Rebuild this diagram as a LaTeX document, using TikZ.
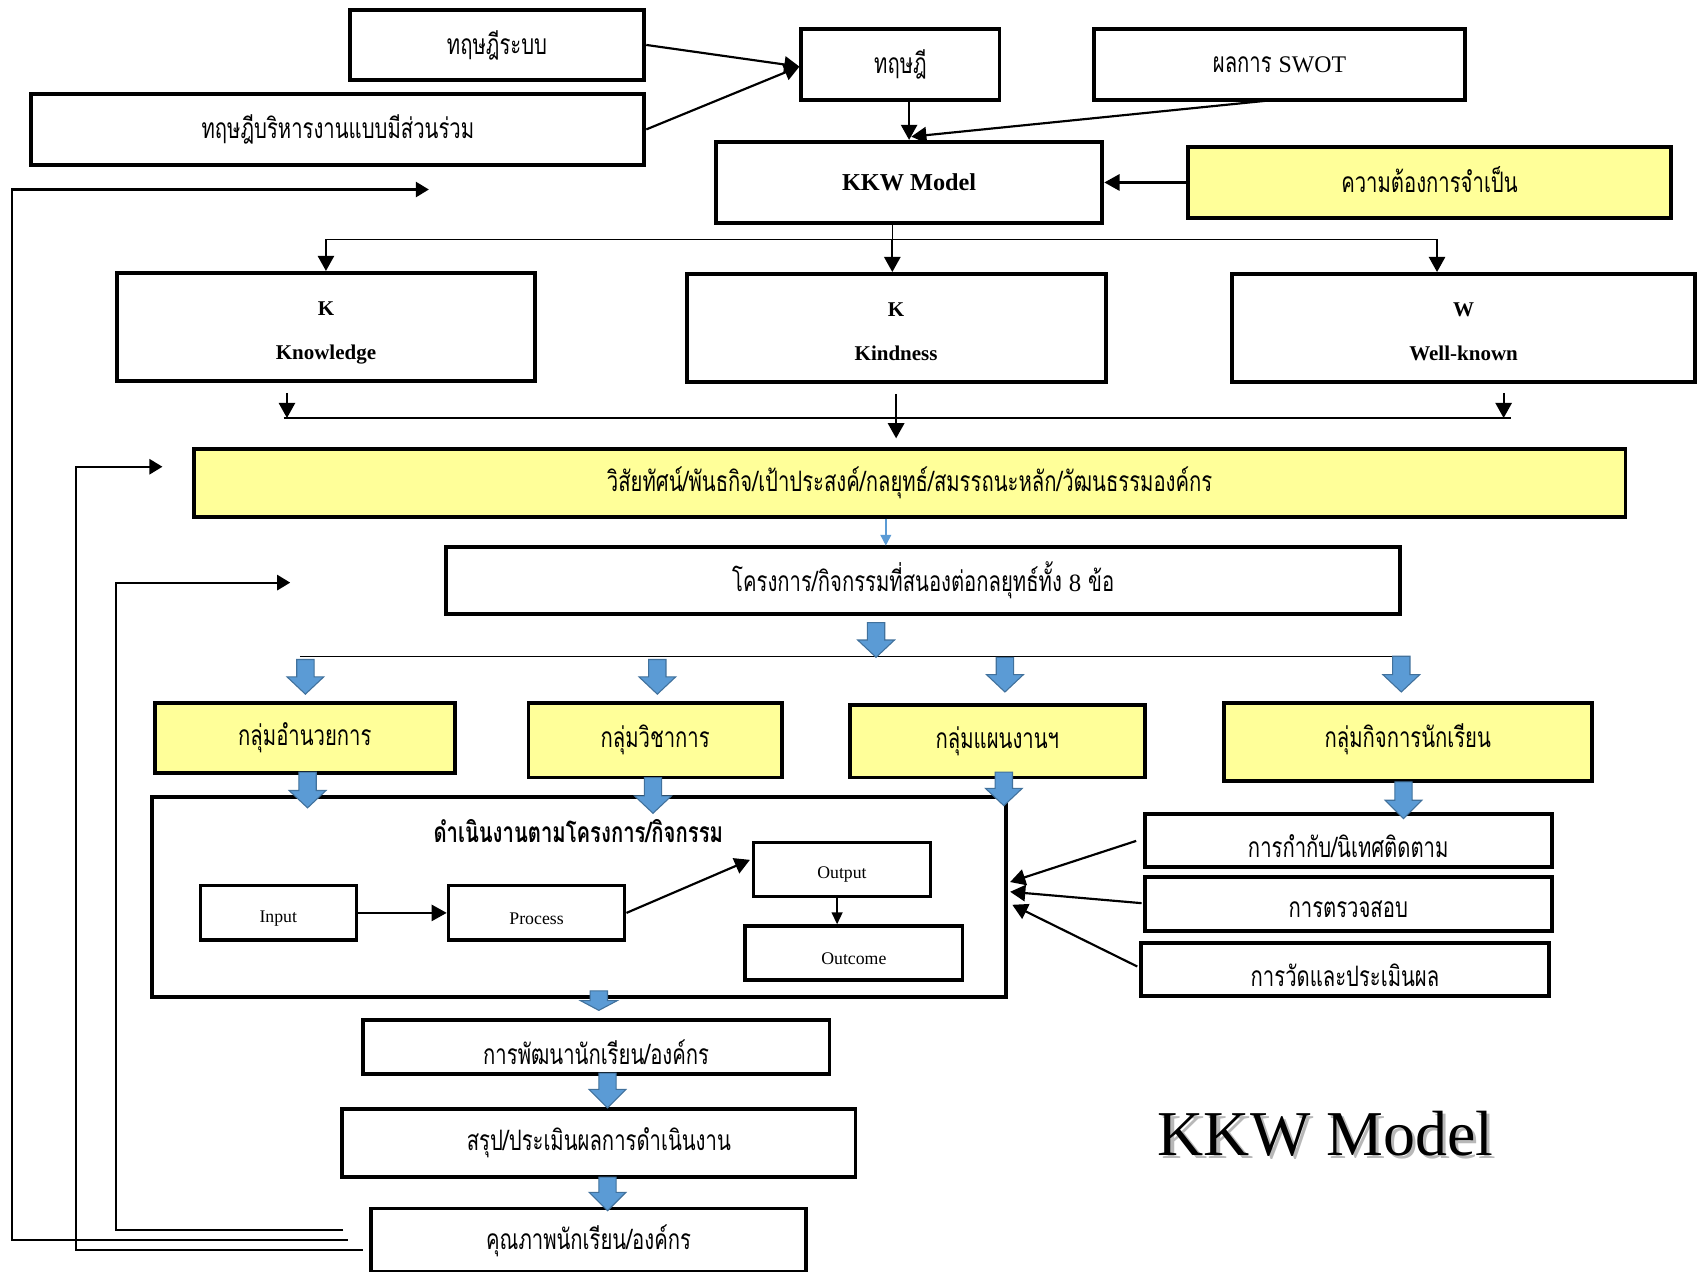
\documentclass[tikz,border=0pt]{standalone}
\usepackage{fontspec}
\setmainfont{Liberation Serif}
\newfontfamily\thaiF[Script=Thai,FakeStretch=0.72]{Loma}
\usetikzlibrary{arrows.meta,calc}
\definecolor{yfill}{HTML}{FFFF99}
\definecolor{bfill}{HTML}{5B9BD5}
\definecolor{bline}{HTML}{41719C}
\newcommand\tf{\thaiF\fontsize{13pt}{15pt}\selectfont}
\newcommand\tfb{\thaiF\bfseries\fontsize{13pt}{15pt}\selectfont}
\newcommand\latS[1]{{\rmfamily\fontsize{11pt}{13pt}\selectfont #1}}
\newcommand\dn[1]{\raisebox{-2.5pt}[\height][\depth]{#1}}
\newcommand\up[1]{\raisebox{1.2pt}[\height][\depth]{#1}}
\newcommand\kstack[2]{\raisebox{-0.8pt}[\height][\depth]{\begin{tabular}{@{}c@{}}#1\\#2\end{tabular}}}
\newcommand\blockarr[4]{%
  \filldraw[blockarrow] (#1-8,#2) -- (#1+8,#2) -- (#1+8,#3-#4) -- (#1+17,#3-#4)
    -- (#1,#3) -- (#1-17,#3-#4) -- (#1-8,#3-#4) -- cycle;}
\begin{document}
\begin{tikzpicture}[x=0.5pt,y=-0.5pt,
  box/.style={draw, line width=1.8pt, inner sep=0pt, align=center, font=\tf},
  ybox/.style={box, fill=yfill},
  ibox/.style={draw, line width=1.5pt, inner sep=0pt, align=center,
    font=\rmfamily\fontsize{8.2pt}{10pt}\selectfont},
  kbox/.style={box, font=\rmfamily\bfseries\fontsize{9.7pt}{20pt}\selectfont},
  arr/.style={line width=1pt, -{Triangle[length=7pt,width=7.5pt]}},
  thinarr/.style={line width=0.8pt, -{Triangle[length=5.5pt,width=5pt]}},
  bus/.style={line width=0.5pt},
  fbarr/.style={line width=1pt, -{Triangle[length=6pt,width=7pt]}},
  blockarrow/.style={fill=bfill, draw=bline, line width=0.5pt}]
\useasboundingbox (0,0) rectangle (1568,1174);
\fill[white] (0,0) rectangle (1568,1174);
\clip (0,0) rectangle (1568,1174);

% top row
\node[box, minimum width=136pt, minimum height=32.5pt] (sys) at (459,41.5) {ทฤษฎีระบบ};
\node[box, minimum width=283pt, minimum height=32.5pt] (part) at (312,119.5) {ทฤษฎีบริหารงานแบบมีส่วนร่วม};
\node[box, minimum width=91.5pt, minimum height=32.5pt] (theory) at (831.5,59.5) {ทฤษฎี};
\node[box, minimum width=171.5pt, minimum height=32.5pt] (swot) at (1181.5,59.5) {ผลการ \latS{SWOT}};
\node[box, minimum width=178.5pt, minimum height=37.5pt, font=\rmfamily\bfseries\fontsize{11.2pt}{13pt}\selectfont] (kkw) at (839.5,168.5) {KKW Model};
\node[ybox, minimum width=223pt, minimum height=32.5pt] (need) at (1320,168.5) {\up{ความต้องการจำเป็น}};

% K K W
\node[kbox, minimum width=193pt, minimum height=50pt] (kn) at (301,302) {\kstack{K}{Knowledge}};
\node[kbox, minimum width=193.5pt, minimum height=50pt] (ki) at (827.5,303) {\kstack{K}{Kindness}};
\node[kbox, minimum width=213.5pt, minimum height=50pt] (wk) at (1351.5,303) {\kstack{W}{Well-known}};

% vision, projects
\node[ybox, minimum width=661pt, minimum height=31pt] (vis) at (840,446) {วิสัยทัศน์/พันธกิจ/เป้าประสงค์/กลยุทธ์/สมรรถนะหลัก/วัฒนธรรมองค์กร};
\node[box, minimum width=440.5pt, minimum height=31pt] (proj) at (852.5,536) {โครงการ/กิจกรรมที่สนองต่อกลยุทธ์ทั้ง {\rmfamily\fontsize{11.5pt}{13pt}\selectfont 8} ข้อ};

% groups
\node[ybox, minimum width=138.5pt, minimum height=32.5pt] (g1) at (281.5,681.5) {กลุ่มอำนวยการ};
\node[ybox, minimum width=117pt, minimum height=34.5pt] (g2) at (605,683.5) {กลุ่มวิชาการ};
\node[ybox, minimum width=136pt, minimum height=33.5pt] (g3) at (921,684.5) {กลุ่มแผนงานฯ};
\node[ybox, minimum width=170pt, minimum height=36pt] (g4) at (1300,685) {\up{กลุ่มกิจการนักเรียน}};

% operation box
\node[box, minimum width=394.5pt, minimum height=92.5pt] (big) at (534.5,828.5) {};
\node[font=\tfb, inner sep=0pt] (optitle) at (534,767) {ดำเนินงานตามโครงการ/กิจกรรม};
\node[ibox, minimum width=72pt, minimum height=25pt] (in) at (257,843) {\dn{Input}};
\node[ibox, minimum width=81.5pt, minimum height=25pt] (pr) at (495.5,843) {\dn{Process}};
\node[ibox, minimum width=81.5pt, minimum height=25pt] (out) at (777.5,803) {\dn{Output}};
\node[ibox, minimum width=100.5pt, minimum height=25pt] (oc) at (788.5,880) {\dn{Outcome}};

% monitoring
\node[box, minimum width=188pt, minimum height=24.5pt] (sup) at (1245,776.5) {\dn{การกำกับ/นิเทศติดตาม}};
\node[box, minimum width=188pt, minimum height=25pt] (chk) at (1245,835) {\dn{การตรวจสอบ}};
\node[box, minimum width=188pt, minimum height=24.5pt] (eval) at (1242,895.5) {\dn{การวัดและประเมินผล}};

% results
\node[box, minimum width=215.5pt, minimum height=25pt] (dev) at (550.5,967) {\dn{การพัฒนานักเรียน/องค์กร}};
\node[box, minimum width=237pt, minimum height=31.5pt] (sum) at (553,1055.5) {สรุป/ประเมินผลการดำเนินงาน};
\node[box, minimum width=200.5pt, minimum height=29.5pt] (qual) at (543.5,1145.5) {คุณภาพนักเรียน/องค์กร};

% title
\node[text=black!28, font=\rmfamily\fontsize{29.5pt}{32pt}\selectfont] (ttlsh) at (1227,1050) {KKW Model};
\node[font=\rmfamily\fontsize{29.5pt}{32pt}\selectfont] (ttl) at (1224,1047) {KKW Model};

% top connectors
\draw[arr] (sys.east) -- ($(theory.west)+(0,2)$);
\draw[arr] (part.east) -- ($(theory.west)+(0,2)$);
\draw[arr] (theory.south -| kkw.north) -- (kkw.north);
\draw[arr] ($(swot.south)+(0,-2)$) -- ($(kkw.north)+(2,-3)$);
\draw[arr] (need.west) -- (kkw.east);

% bus 1
\coordinate (b1) at (824,221);
\coordinate (b1r) at (1327,221);
\draw[bus] (kkw.south -| b1) -- (b1);
\draw[bus] (kn.north |- b1) -- (b1r);
\draw[arr] (kn.north |- b1) -- (kn.north);
\draw[arr] (b1) -- (ki.north -| b1);
\draw[arr] (b1r) -- (wk.north -| b1r);

% bus 2
\coordinate (b2l) at (262,386);
\coordinate (b2r) at (1395,386);
\draw[bus] (b2l) -- (b2r);
\draw[arr] ($(kn.south)+(-36,9)$) coordinate (t1) -- (t1 |- b2l);
\draw[arr] ($(ki.south)+(0,9)$) -- ($(ki.south)+(0,50)$);
\draw[arr] ($(wk.south)+(37,8)$) coordinate (t3) -- (t3 |- b2l);

% vision -> projects
\draw[line width=0.8pt, draw=bfill, -{Triangle[length=5pt,width=5pt,fill=bfill]}] ($(vis.south)+(-22,0)$) -- ($(vis.south)+(-22,25)$);

% bus 3 and block arrows
\draw[bus] (277,606) -- (1302,606);
\blockarr{809}{575}{607}{16}
\blockarr{282}{609}{641}{16}
\blockarr{607}{609}{641}{16}
\blockarr{928}{607}{639}{16}
\blockarr{1294}{606}{639}{16}
\blockarr{284}{713}{746}{16}
\blockarr{603}{718}{751}{16}
\blockarr{927}{713}{744}{16}
\blockarr{1296}{722}{756}{17}
\blockarr{553}{915}{933}{9}
\blockarr{561}{991}{1023}{17}
\blockarr{561}{1087}{1118}{17}

% inner flow
\draw[arr] (in.east) -- (pr.west);
\draw[arr] (pr.east) -- ($(out.west)+(-2,-9)$);
\draw[thinarr] ($(out.south)+(-4.5,0)$) coordinate (o1) -- (o1 |- oc.north);

% monitoring arrows
\draw[arr] ($(sup.west)+(-6,0)$) -- ($(big.east)+(2,-14)$);
\draw[arr] ($(chk.west)+(-1,-1)$) -- ($(big.east)+(2,-5)$);
\draw[arr] ($(eval.west)+(-2,-3)$) -- ($(big.east)+(4,7)$);

% feedback loops
\coordinate (f1e) at (321,1145); \coordinate (f1a) at (396,175);
\coordinate (f2e) at (335,1154); \coordinate (f2a) at (150,431);
\coordinate (f3e) at (317,1136); \coordinate (f3a) at (268,538);
\draw[fbarr] (f1e) -| (11,175) -- (f1a);
\draw[fbarr] (f2e) -| (70,431) -- (f2a);
\draw[fbarr] (f3e) -| (107,538) -- (f3a);
\end{tikzpicture}
\end{document}
